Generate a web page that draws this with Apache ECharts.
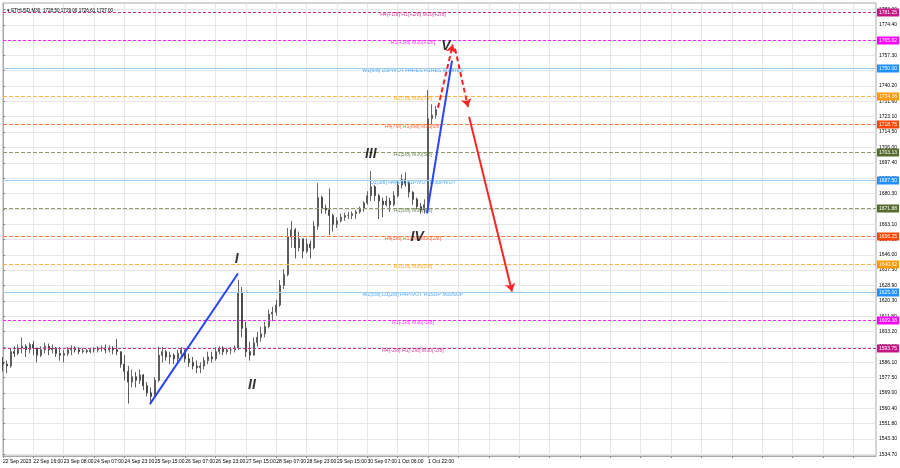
<!DOCTYPE html>
<html><head><meta charset="utf-8">
<script src="https://cdn.jsdelivr.net/npm/echarts@6/dist/echarts.min.js"></script>
<style>html,body{margin:0;padding:0;background:#fff}#c{width:900px;height:468px}</style>
</head><body><div id="c"></div>
<script>
// ---------- data ----------
const xLabels = ['22 Sep 2023','22 Sep 16:00','23 Sep 08:00','24 Sep 07:00','24 Sep 23:00','25 Sep 15:00','26 Sep 07:00','26 Sep 23:00','27 Sep 15:00','28 Sep 07:00','28 Sep 23:00','29 Sep 15:00','30 Sep 07:00','1 Oct 06:00','1 Oct 22:00'];
const yTicks = [1783.00,1774.40,1765.90,1757.30,1748.80,1740.20,1731.60,1723.10,1714.50,1706.00,1697.40,1688.80,1680.30,1671.70,1663.10,1654.50,1646.00,1637.50,1628.90,1620.30,1611.80,1603.20,1594.60,1586.10,1577.50,1569.00,1560.40,1551.80,1543.30,1534.70];
const firstOpen = 1586;
const highs = [1589,1587,1594,1595,1596,1600,1596,1597,1598,1594,1595,1597,1596.5,1596,1594.5,1594.5,1593,1594.5,1595.5,1595,1594.5,1594,1593.5,1594,1594.5,1595,1595.5,1596,1595.5,1595,1599,1592,1590,1584,1582,1580.6,1582,1579.5,1575,1572,1577.8,1594.7,1594.5,1593,1592,1591,1593,1594.5,1593,1591,1589,1587,1586,1589,1592,1592,1594.5,1595,1595,1594,1594.5,1595.5,1632,1628,1608.7,1597.5,1600,1603,1606,1608.7,1615.5,1617,1621,1632,1638,1661,1665,1661,1659,1655,1655,1654,1665,1686,1679,1674,1683,1669,1667,1669,1669.5,1670,1670.3,1671,1673,1676,1681.5,1692.8,1685,1680,1678,1679,1678,1681.5,1687,1691,1692,1687,1681.5,1678,1675,1677,1738,1730,1729];
const lows = [1581,1580,1583,1589,1590,1591,1589,1591,1590,1586,1589,1591,1590,1591,1589,1587,1586,1589.5,1590,1591.5,1590.5,1591,1591,1591,1591.5,1591.5,1592,1591,1591.5,1590.5,1590,1583,1576,1563,1572,1572,1574,1570.5,1567,1564,1566.6,1575,1586,1587,1585,1585,1586,1589,1586,1583.5,1582,1580,1580,1582,1585,1586,1587,1590.5,1590,1590.5,1590.5,1591.5,1593,1600,1589,1587,1590.5,1594.7,1597.5,1600,1605,1609,1612,1617,1627,1634,1650,1644,1648,1644,1647,1644,1649,1660,1669,1669,1657,1659,1661,1664,1665,1666,1666,1666,1669,1670,1674,1676,1676,1666,1667,1673,1670,1673,1678,1683,1684,1678,1674,1671.5,1669,1669,1670,1719,1722];
const closes = [1585,1584,1592,1591,1594,1595,1593,1596,1594,1590,1593,1595,1593,1594,1591,1590,1591,1593,1594,1593,1592,1592.5,1592,1593,1593,1594,1594,1593,1594,1593,1592,1585,1581,1575,1578,1576,1579,1573,1569,1567,1576,1590,1592,1589,1590,1588,1591,1593,1588,1586,1584,1583,1584,1587,1589,1588,1592,1594,1592,1593,1593,1594,1625,1605,1592,1590,1597,1600,1602,1606,1613,1614,1618,1629,1635,1656,1660,1650,1655,1648,1652,1650,1662,1678,1672,1671,1668,1663,1665,1667,1668,1668,1669,1670,1672,1675,1679,1684,1679,1676,1674,1676,1674,1679,1685,1688,1686,1681,1677,1673,1671,1674,1722,1724,1727];
const levelPrices = [1781.25,1765.62,1750.00,1734.38,1718.75,1703.13,1687.50,1671.88,1656.25,1640.62,1625.00,1609.38,1593.75];
const levelTexts = ['H4[+1/8] H1[+2/8] M30[+2/8]','H1[+1/8] M30[+1/8]','W1[6/8] D1PIVOT H4RES H1RES M30RES','H1[7/8] M30[7/8]','H4[7/8] H1[6/8] M30[6/8]','H1[5/8] M30[5/8]','D1[3/8] H4[6/8] H1PIVOT M30PIVOT','H1[3/8] M30[3/8]','H4[5/8] H1[2/8] M30[2/8]','H1[1/8] M30[1/8]','W1[5/8] D1[2/8] H4PIVOT H1SUP M30SUP','H1[-1/8] M30[-1/8]','H4[-2/8] H1[-2/8] M30[-2/8]'];
const levelKinds = ['mvr','mag','blue','orange','ored','olive','blue','olive','ored','orange','blue','mag','mvr'];
const currentPrice = 1727.00;
const titleText = 'ETHUSD,M30  1728.50 1729.00 1726.61 1727.00';
const waveLabels = ['I','II','III','IV','V'];
const waveLabelPoints = [[61.6,1643.4],[65.6,1573.4],[96.9,1702.3],[109.1,1655.8],[116.7,1762.3]];
const blueWaves = [[[38.7,1562.7],[61.9,1635.6]],[[111.7,1669.2],[118.3,1754.4]]];
const redDashedArrows = [[[114.6,1728.1],[118.5,1763.4]],[[119.1,1761.1],[122.5,1728.6]]];
const redSolidArrows = [[[122.8,1723.0],[134.1,1625.5]]];

// ---------- styles ----------
const NCAT = 231;
const kindStyle = {
  mvr:   {box:'#c71585', line:'#d0308c', text:'#c71585', type:[3,2]},
  mag:   {box:'#ff00ff', line:'#ff20ff', text:'#ff00ff', type:[3,2]},
  blue:  {box:'#1e90ff', line:'#9ccdf5', text:'#1e90ff', type:'solid'},
  orange:{box:'#ff9900', line:'#ffb347', text:'#ff9900', type:[4,2]},
  ored:  {box:'#ff4500', line:'#ff7a4a', text:'#ff4500', type:[4,2]},
  olive: {box:'#556b2f', line:'#8d9a6a', text:'#556b2f', type:[4,2]}
};
const FF = 'Liberation Sans, Arial, sans-serif';

const cats = [];
for (let i = 0; i < NCAT; i++) {
  cats.push(i % 8 === 0 && xLabels[i / 8] ? xLabels[i / 8] : 'c' + i);
}
const candles = closes.map((c, i) => [i === 0 ? firstOpen : closes[i - 1], c, lows[i], highs[i]]);

const levelLines = levelPrices.map((p, i) => {
  const s = kindStyle[levelKinds[i]];
  return {
    yAxis: p,
    lineStyle: {color: s.line, type: s.type, width: 1, opacity: 1},
    label: {show: true, position: 'end', formatter: p.toFixed(2), color: '#fff', backgroundColor: s.box,
      fontSize: 5, fontFamily: FF, padding: [2, 2, 1, 2], distance: 1}
  };
});
levelLines.push({
  yAxis: currentPrice,
  lineStyle: {opacity: 0},
  label: {show: true, position: 'end', formatter: currentPrice.toFixed(2), color: '#fff', backgroundColor: '#000',
    fontSize: 5, fontFamily: FF, padding: [2, 2, 1, 2], distance: 1}
});

function segs(list) {
  return list.map(s => [{coord: s[0]}, {coord: s[1]}]);
}

const option = {
  animation: false,
  backgroundColor: '#fff',
  title: {text: '\u25BE ' + titleText, left: 2, top: 3, textStyle: {fontSize: 4.6, fontWeight: 'normal', color: '#000', fontFamily: FF}},
  grid: {left: 3, right: 24, top: 3, bottom: 12, show: true, borderColor: '#a8a8a8', borderWidth: 1, containLabel: false, outerBoundsMode: 'none'},
  xAxis: [{
    type: 'category', data: cats, boundaryGap: false,
    axisLine: {show: true, lineStyle: {color: '#a8a8a8'}},
    axisTick: {show: true, interval: 7, length: 2, lineStyle: {color: '#888'}},
    axisLabel: {interval: 7, fontSize: 5, color: '#000', fontFamily: FF, align: 'left', margin: 3,
      formatter: v => (v.charAt(0) === 'c' ? '' : v)},
    splitLine: {show: true, interval: 7, lineStyle: {color: '#e6e6e6', width: 1}}
  }, {
    type: 'value', min: 0, max: NCAT - 1, show: false
  }],
  yAxis: {
    type: 'value', position: 'right', min: 1533.76, max: 1786.55,
    axisLine: {show: true, lineStyle: {color: '#a8a8a8'}},
    axisTick: {show: true, length: 2, customValues: yTicks, lineStyle: {color: '#888'}},
    axisLabel: {customValues: yTicks, formatter: v => v.toFixed(2), fontSize: 5, color: '#000', fontFamily: FF, margin: 3},
    splitLine: {show: true, lineStyle: {color: '#e6e6e6', width: 1}}
  },
  series: [
    {
      type: 'line', data: [], xAxisIndex: 0, silent: true,
      markLine: {silent: true, symbol: ['none', 'none'], animation: false, data: levelLines}
    },
    {
      type: 'candlestick', name: 'ETHUSD', xAxisIndex: 0, data: candles, barWidth: 1.5,
      itemStyle: {color: '#8a8a8a', color0: '#555', borderColor: '#444', borderColor0: '#333', borderWidth: 0.8}
    },
    {
      type: 'scatter', xAxisIndex: 1, symbolSize: 0, silent: true,
      data: levelPrices.map((p, i) => ({
        value: [108, p],
        label: {show: true, position: 'inside', offset: [0, 2], formatter: levelTexts[i], fontSize: 5.2,
          fontFamily: FF, color: kindStyle[levelKinds[i]].text}
      }))
    },
    {
      type: 'line', xAxisIndex: 1, data: blueWaves[0], showSymbol: false, lineStyle: {opacity: 0}, silent: true,
      markLine: {silent: true, symbol: ['none', 'none'], lineStyle: {color: '#2a45f5', width: 2, type: 'solid'},
        label: {show: false}, data: segs(blueWaves)}
    },
    {
      type: 'line', xAxisIndex: 1, data: redDashedArrows[0], showSymbol: false, lineStyle: {opacity: 0}, silent: true,
      markLine: {silent: true, symbol: ['none', 'arrow'], symbolSize: 8, lineStyle: {color: '#ff2222', width: 2, type: [5, 3]},
        label: {show: false}, data: segs(redDashedArrows)}
    },
    {
      type: 'line', xAxisIndex: 1, data: redSolidArrows[0], showSymbol: false, lineStyle: {opacity: 0}, silent: true,
      markLine: {silent: true, symbol: ['none', 'arrow'], symbolSize: 8, lineStyle: {color: '#ff2222', width: 2, type: 'solid'},
        label: {show: false}, data: segs(redSolidArrows)}
    },
    {
      type: 'scatter', xAxisIndex: 1, symbolSize: 0, silent: true, z: 10,
      data: waveLabelPoints.map((p, i) => ({
        value: p,
        label: {show: true, position: 'inside', formatter: waveLabels[i], fontSize: 14, fontStyle: 'italic',
          fontWeight: 'bold', fontFamily: FF, color: '#000'}
      }))
    }
  ]
};
const chart = echarts.init(document.getElementById('c'), null, {renderer: 'canvas'});
chart.setOption(option);
</script>
</body></html>
